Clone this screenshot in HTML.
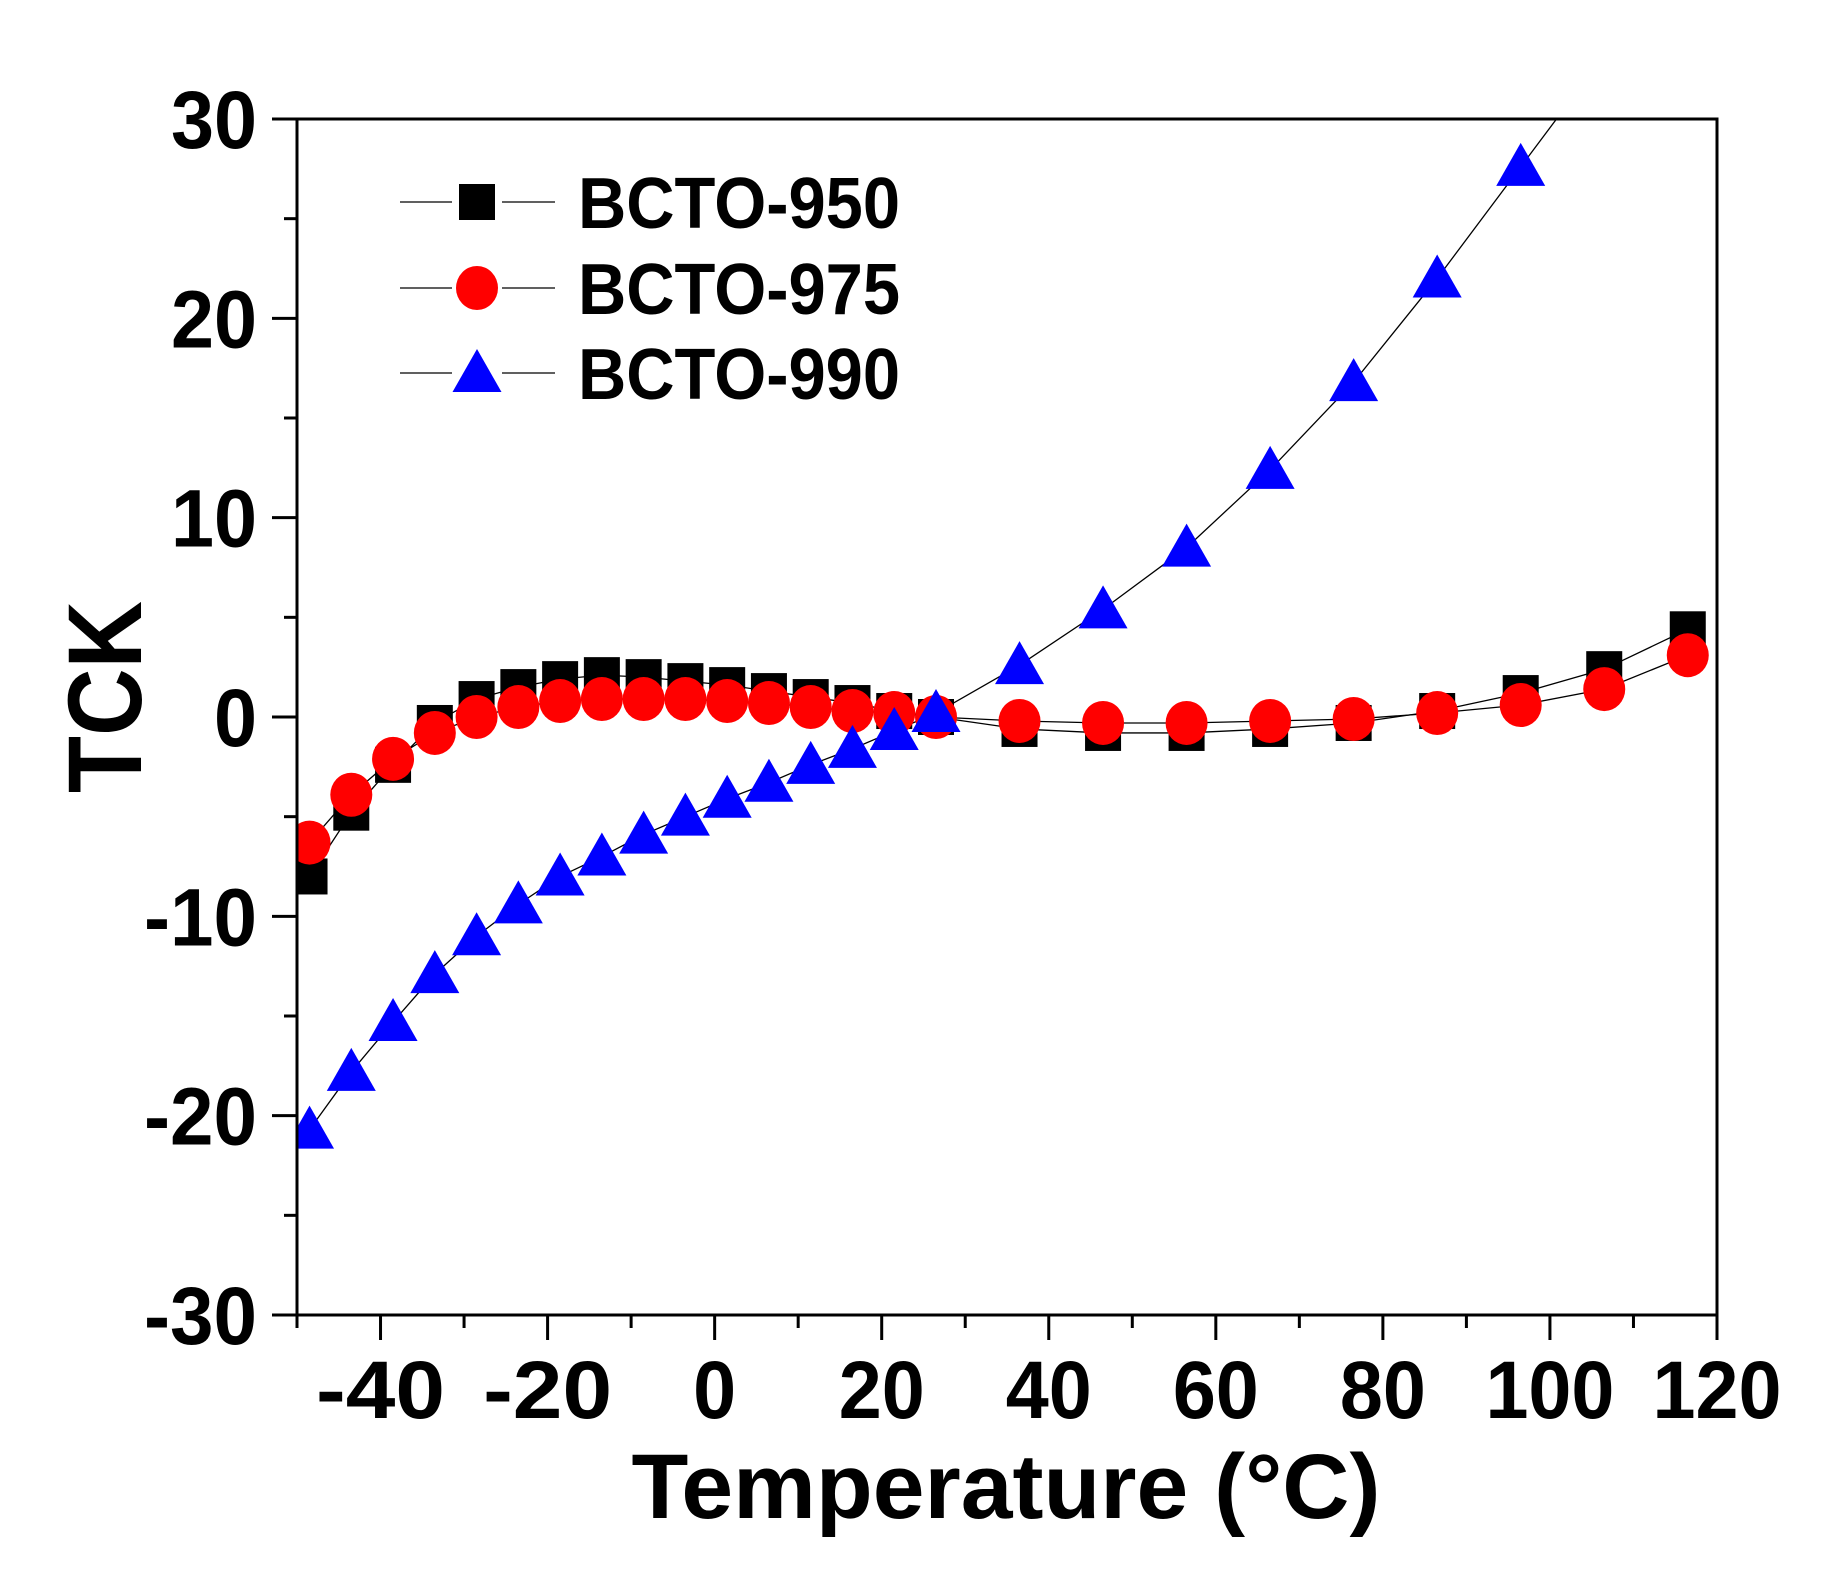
<!DOCTYPE html>
<html><head><meta charset="utf-8"><style>
html,body{margin:0;padding:0;background:#fff;}
svg{display:block;}
text{font-family:"Liberation Sans",Arial,sans-serif;font-weight:bold;fill:#000;}
</style></head><body>
<svg id="chart" width="1828" height="1576" viewBox="0 0 1828 1576" xmlns="http://www.w3.org/2000/svg">
<defs><clipPath id="plotclip"><rect x="297" y="119" width="1420" height="1196"/></clipPath></defs>
<g id="series" clip-path="url(#plotclip)"></g>
<g id="axes"></g>
<g id="legend"></g>
</svg>
<script>
const temps = [-48.5,-43.5,-38.5,-33.5,-28.5,-23.5,-18.5,-13.5,-8.5,-3.5,1.5,6.5,11.5,16.5,21.5,26.5,36.5,46.5,56.5,66.5,76.5,86.5,96.5,106.5,116.5];
const bcto950 = [-8.0,-4.8,-2.4,-0.3,0.9,1.5,1.9,2.1,2.0,1.8,1.6,1.3,1.0,0.7,0.3,0.0,-0.6,-0.8,-0.8,-0.6,-0.3,0.3,1.2,2.4,4.4];
const bcto975 = [-6.3,-3.9,-2.1,-0.8,0.0,0.5,0.8,0.9,0.9,0.9,0.8,0.7,0.5,0.3,0.2,0.0,-0.2,-0.3,-0.3,-0.2,-0.1,0.2,0.6,1.4,3.1];
const bcto990 = [-20.7,-17.8,-15.3,-12.9,-11.0,-9.4,-8.0,-7.0,-5.9,-5.0,-4.1,-3.3,-2.4,-1.6,-0.7,0.2,2.6,5.4,8.5,12.4,16.8,22.0,27.6,33.2,39.5];
const xTicks = [-40,-20,0,20,40,60,80,100,120];
const yTicks = [-30,-20,-10,0,10,20,30];
const seriesNames = ["BCTO-950","BCTO-975","BCTO-990"];

const NS="http://www.w3.org/2000/svg";
const X0=297,X1=1717,Y0=1315,Y1=119;
const xMin=-50,xMax=120,yMin=-30,yMax=30;
function sx(v){return X0+(v-xMin)/(xMax-xMin)*(X1-X0);}
function sy(v){return Y0-(v-yMin)/(yMax-yMin)*(Y0-Y1);}
function mk(tag,attrs,parent){const e=document.createElementNS(NS,tag);for(const k in attrs)e.setAttribute(k,attrs[k]);parent.appendChild(e);return e;}
const gS=document.getElementById('series'),gA=document.getElementById('axes'),gL=document.getElementById('legend');

function marker(type,cx,cy,parent){
  let e;
  if(type==='square'){e=mk('rect',{x:cx-18,y:cy-18,width:36,height:36,fill:'#000'},parent);}
  else if(type==='circle'){e=mk('ellipse',{cx:cx,cy:cy,rx:21,ry:22,fill:'#ff0000'},parent);}
  else {e=mk('polygon',{points:`${cx},${cy-24} ${cx+24.5},${cy+19} ${cx-24.5},${cy+19}`,fill:'#0000ff'},parent);}
  return e;
}
const allSeries=[[bcto950,'square'],[bcto975,'circle'],[bcto990,'triangle']];
allSeries.forEach(([vals,type],si)=>{
  const pts=temps.map((t,i)=>sx(t)+','+sy(vals[i])).join(' ');
  const line=mk('polyline',{points:pts,fill:'none',stroke:'#000','stroke-width':1.3},gS);
  
  
});
allSeries.forEach(([vals,type],si)=>{
  temps.forEach((t,i)=>{
    const m=marker(type,sx(t),sy(vals[i]),gS);
    
    
  });
});

// frame
const frame=mk('rect',{x:X0,y:Y1,width:X1-X0,height:Y0-Y1,fill:'none',stroke:'#000','stroke-width':3},gA);


// x ticks
for(let v=-50;v<=120;v+=10){
  const major=(v%20===0);
  mk('line',{x1:sx(v),x2:sx(v),y1:Y0,y2:Y0+(major?25:13),stroke:'#000','stroke-width':3},gA);
}
xTicks.forEach(v=>{
  const t=mk('text',{x:sx(v),y:1418,'text-anchor':'middle','font-size':82,textLength:String(v).length*43,lengthAdjust:'spacingAndGlyphs'},gA);
  t.textContent=String(v);
  
  
});
for(let v=-30;v<=30;v+=5){
  const major=(v%10===0);
  mk('line',{x1:X0,x2:X0-(major?25:13),y1:sy(v),y2:sy(v),stroke:'#000','stroke-width':3},gA);
}
yTicks.forEach(v=>{
  const t=mk('text',{x:257,y:sy(v)+29,'text-anchor':'end','font-size':82,textLength:String(v).length*43-(v<0?16:0),lengthAdjust:'spacingAndGlyphs'},gA);
  t.textContent=String(v);
  
  
});
const xt=mk('text',{x:1006,y:1518,'text-anchor':'middle','font-size':92,textLength:749,lengthAdjust:'spacingAndGlyphs'},gA);
xt.textContent='Temperature (°C)';


const yt=mk('text',{x:0,y:0,'text-anchor':'middle','font-size':105,textLength:192,lengthAdjust:'spacingAndGlyphs',transform:'translate(141,697) rotate(-90)'},gA);
yt.textContent='TCK';



// legend
const rowsY=[202,288,373];
['square','circle','triangle'].forEach((type,i)=>{
  const g=mk('g',{},gL);
  
  
  mk('line',{x1:400,x2:452,y1:rowsY[i],y2:rowsY[i],stroke:'#000','stroke-width':1.3},g);
  mk('line',{x1:502,x2:555,y1:rowsY[i],y2:rowsY[i],stroke:'#000','stroke-width':1.3},g);
  marker(type,477,rowsY[i],g);
  const t=mk('text',{x:578,y:rowsY[i]+26,'font-size':72,textLength:322,lengthAdjust:'spacingAndGlyphs'},g);
  t.textContent=seriesNames[i];
});
</script>
</body></html>
